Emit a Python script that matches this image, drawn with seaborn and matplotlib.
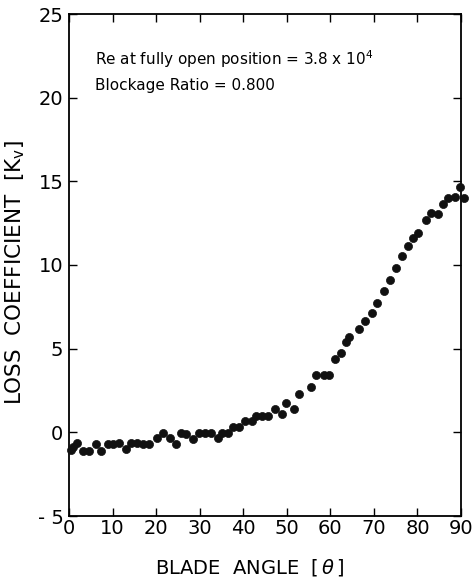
import numpy as np
import pandas as pd
import matplotlib
matplotlib.use("Agg")
import matplotlib.pyplot as plt
import seaborn as sns

blade_angle = [0.5, 0.9, 1.8, 3.2, 4.6, 6.2, 7.4, 9.0, 10.1, 11.5, 13.1, 14.3, 15.6,
               17.0, 18.4, 20.3, 21.6, 23.2, 24.6, 25.8, 26.9, 28.5, 29.9, 31.2, 32.7,
               34.1, 35.2, 36.4, 37.7, 39.1, 40.5, 42.1, 43.0, 44.4, 45.8, 47.4, 48.8,
               49.9, 51.6, 52.7, 55.5, 56.8, 58.5, 59.8, 61.0, 62.4, 63.5, 64.4, 66.5,
               67.9, 69.5, 70.7, 72.3, 73.6, 75.0, 76.4, 77.8, 79.0, 80.1, 81.9, 83.1,
               84.7, 85.8, 87.0, 88.6, 89.8, 90.6]
loss_coef = [-1.06, -0.88, -0.64, -1.12, -1.12, -0.70, -1.12, -0.70, -0.70, -0.64, -1.0,
             -0.64, -0.64, -0.70, -0.70, -0.34, -0.04, -0.34, -0.70, -0.04, -0.10, -0.40,
             -0.04, -0.04, -0.04, -0.34, -0.04, -0.04, 0.31, 0.31, 0.67, 0.67, 0.97, 0.97,
             0.97, 1.39, 1.09, 1.75, 1.39, 2.29, 2.70, 3.42, 3.42, 3.42, 4.38, 4.74, 5.39,
             5.69, 6.17, 6.65, 7.13, 7.73, 8.44, 9.10, 9.82, 10.53, 11.13, 11.61, 11.91,
             12.69, 13.11, 13.05, 13.64, 14.00, 14.06, 14.66, 14.0]

x_ticks = [0, 10, 20, 30, 40, 50, 60, 70, 80, 90]
y_ticks = [-5, 0, 5, 10, 15, 20, 25]

df = pd.DataFrame({"angle": blade_angle, "kv": loss_coef})

sns.set_style("ticks")
plt.rcParams['font.family'] = ['DejaVu Sans']
plt.rcParams['text.color'] = 'black'
plt.rcParams['axes.labelcolor'] = 'black'

fig = plt.figure(figsize=(4.72, 5.81), dpi=100)
ax = fig.add_axes([69/472, 1 - 516/581, (461 - 69)/472, (516 - 14)/581])

sns.scatterplot(data=df, x="angle", y="kv", ax=ax, color="#111111", s=34,
                edgecolor="#111111", linewidth=0.5, clip_on=False, zorder=3)

ax.set_xlim(0, 90)
ax.set_ylim(-5, 25)
ax.set_xticks(x_ticks)
ax.set_yticks(y_ticks)
ax.set_yticklabels([("- 5" if v == -5 else str(v)) for v in y_ticks])
ax.tick_params(direction="in", length=6, width=1.0, top=True, right=True,
               labelsize=14, colors="black")
ax.tick_params(axis="x", pad=2)
ax.tick_params(axis="y", pad=4)
for sp in ax.spines.values():
    sp.set_visible(True)
    sp.set_linewidth(1.3)
    sp.set_color("black")

ax.set_xlabel(r"BLADE  ANGLE  $\left[\,\theta\,\right]$", fontsize=14, color="black")
ax.set_ylabel(r"LOSS  COEFFICIENT  $\left[\mathrm{K_v}\right]$", fontsize=15.5, color="black")
ax.xaxis.set_label_coords((250 - 69) / 392, -(568 - 516) / 502)
ax.yaxis.set_label_coords(-(69 - 15) / 392, (516 - 272) / 502)
ax.xaxis.label.set_va("center")
ax.yaxis.label.set_va("center")

ax.text(6, 22.3, r"Re at fully open position = 3.8 x 10$^4$", fontsize=11, va="center", ha="left", color="black")
ax.text(6, 20.7, "Blockage Ratio = 0.800", fontsize=11, va="center", ha="left", color="black")

fig.savefig("out.png", dpi=100)
